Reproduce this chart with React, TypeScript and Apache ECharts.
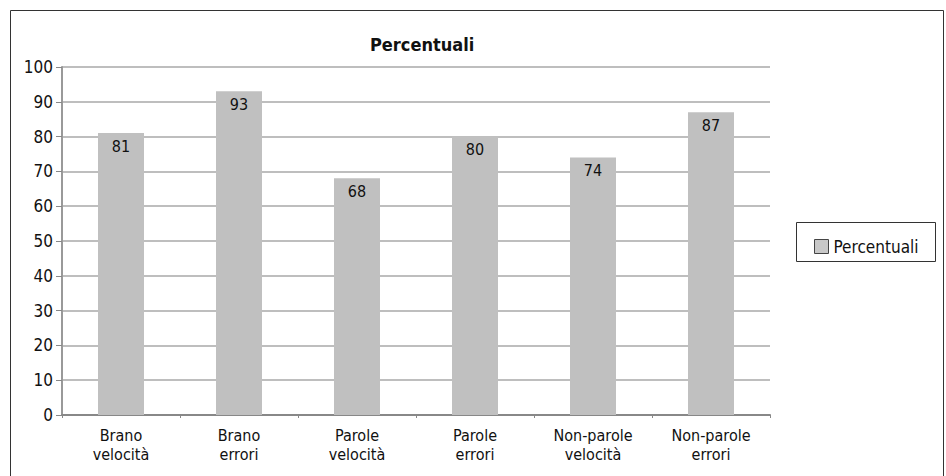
import React, { useEffect, useRef } from "react";
import * as echarts from "echarts";

const categories = [
  "Brano\nvelocità",
  "Brano\nerrori",
  "Parole\nvelocità",
  "Parole\nerrori",
  "Non-parole\nvelocità",
  "Non-parole\nerrori",
];
const values = [81, 93, 68, 80, 74, 87];
const seriesName = "Percentuali";

const FONT = "'DejaVu Sans Condensed', 'DejaVu Sans', sans-serif";

export default function App() {
  const ref = useRef<HTMLDivElement>(null);
  useEffect(() => {
    if (!ref.current) return;
    const chart = echarts.init(ref.current, null, { renderer: "svg" });
    chart.setOption({
      animation: false,
      backgroundColor: "#ffffff",
      textStyle: { fontFamily: FONT },
      title: {
        text: "Percentuali",
        left: 370,
        top: 35,
        padding: 0,
        textStyle: { fontSize: 18, fontWeight: "bold", color: "#111", fontFamily: FONT },
      },
      graphic: [
        {
          type: "rect",
          shape: { x: 10.5, y: 10.5, width: 933, height: 470 },
          style: { fill: "none", stroke: "#333", lineWidth: 1 },
          silent: true,
        },
        {
          type: "rect",
          shape: { x: 796.5, y: 222.5, width: 139, height: 39 },
          style: { fill: "none", stroke: "#333", lineWidth: 1 },
          silent: true,
        },
      ],
      legend: {
        show: true,
        left: 809,
        top: 233,
        orient: "vertical",
        itemWidth: 14,
        itemHeight: 14,
        itemGap: 6,
        icon: "rect",
        textStyle: { fontSize: 17, color: "#111", fontFamily: FONT },
        data: [
          {
            name: seriesName,
            itemStyle: { color: "#c8c8c8", borderColor: "#444", borderWidth: 1 },
          },
        ],
      },
      grid: { left: 62, right: 176, top: 67, bottom: 61 },
      xAxis: {
        type: "category",
        data: categories,
        axisLine: { lineStyle: { color: "#888", width: 2 } },
        axisTick: { show: true, alignWithLabel: false, length: 3, lineStyle: { color: "#888" } },
        axisLabel: {
          color: "#111",
          fontSize: 16,
          lineHeight: 19,
          margin: 11,
          interval: 0,
          fontFamily: FONT,
        },
        splitLine: { show: false },
      },
      yAxis: {
        type: "value",
        min: 0,
        max: 100,
        interval: 10,
        axisLine: { show: true, lineStyle: { color: "#999", width: 2 } },
        axisTick: { show: true, length: 6, lineStyle: { color: "#888" } },
        axisLabel: { color: "#111", fontSize: 17, margin: 9, fontFamily: FONT },
        splitLine: { show: true, lineStyle: { color: "#a8a8a8", width: 1.5 } },
      },
      series: [
        {
          name: seriesName,
          type: "bar",
          data: values,
          barWidth: 46,
          itemStyle: { color: "#c0c0c0" },
          label: {
            show: true,
            position: "insideTop",
            distance: 5,
            color: "#111",
            fontSize: 16,
            fontFamily: FONT,
          },
        },
      ],
    });
    return () => chart.dispose();
  }, []);
  return (
    <div
      ref={ref}
      style={{ position: "fixed", left: 0, top: 0, width: 946, height: 476 }}
    />
  );
}
